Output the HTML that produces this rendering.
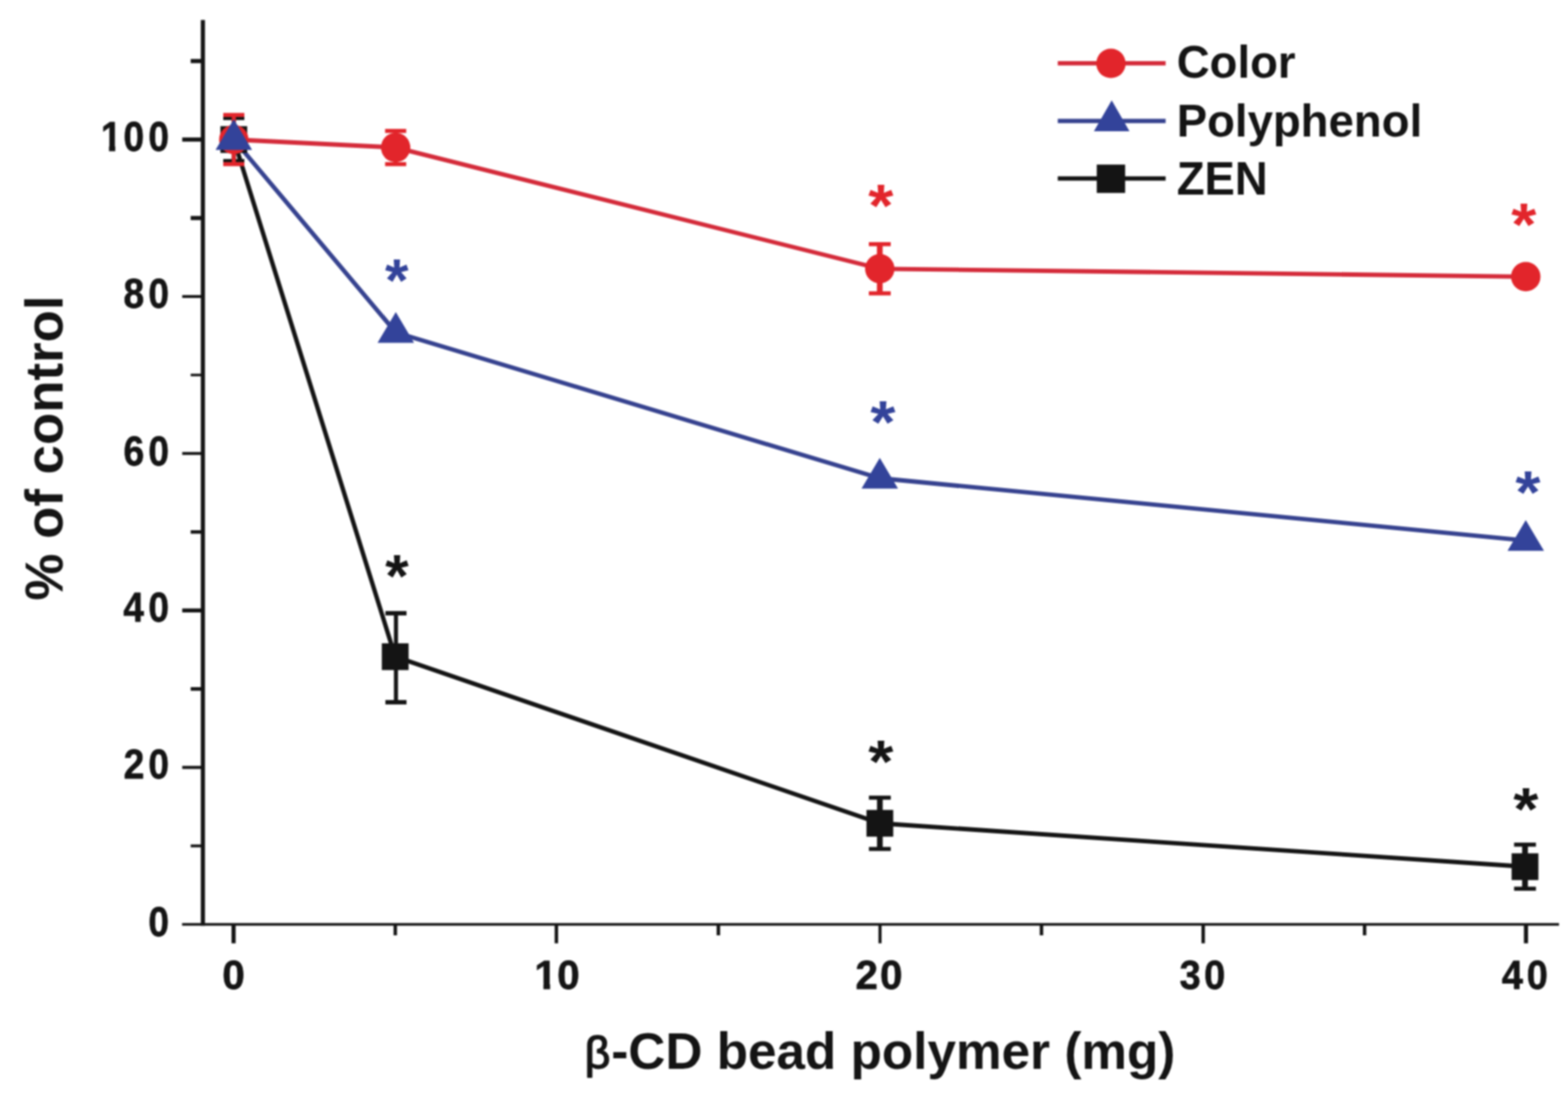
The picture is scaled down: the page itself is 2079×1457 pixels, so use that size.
<!DOCTYPE html>
<html lang="en">
<head>
<meta charset="utf-8">
<title>β-CD bead polymer vs % of control</title>
<style>
html,body{margin:0;padding:0;background:#fff;}
body{width:2079px;height:1457px;overflow:hidden;}
svg{display:block;filter:blur(0.9px);}
text{font-family:"Liberation Sans",Arial,Helvetica,sans-serif;font-weight:bold;fill:#141414;}
.tk{stroke:#141414;stroke-width:0.8px;stroke-linejoin:round;}
.beta{font-weight:normal;font-size:59px;stroke:#141414;stroke-width:1.8px;stroke-linejoin:round;}
</style>
</head>
<body>
<svg width="2079" height="1457" viewBox="0 0 2079 1457">
<rect width="2079" height="1457" fill="#ffffff"/>

<g stroke="#141414" fill="none" stroke-linecap="butt">
<line x1="269" y1="26.5" x2="269" y2="1227.2" stroke-width="5.5"/>
<line x1="241.4" y1="1225.5" x2="2067.1" y2="1225.5" stroke-width="3.4"/>
<line x1="252.8" y1="1121.45" x2="269" y2="1121.45" stroke-width="3.8"/>
<line x1="241.6" y1="1017.4" x2="269" y2="1017.4" stroke-width="4.1"/>
<line x1="252.8" y1="913.35" x2="269" y2="913.35" stroke-width="4.8"/>
<line x1="241.6" y1="809.3" x2="269" y2="809.3" stroke-width="5.3"/>
<line x1="252.8" y1="705.25" x2="269" y2="705.25" stroke-width="4.6"/>
<line x1="241.6" y1="601.2" x2="269" y2="601.2" stroke-width="3.9"/>
<line x1="252.8" y1="497.15" x2="269" y2="497.15" stroke-width="3.4"/>
<line x1="241.6" y1="393.1" x2="269" y2="393.1" stroke-width="3.8"/>
<line x1="252.8" y1="289.05" x2="269" y2="289.05" stroke-width="5.5"/>
<line x1="241.6" y1="185" x2="269" y2="185" stroke-width="5.5"/>
<line x1="252.8" y1="80.95" x2="269" y2="80.95" stroke-width="5.5"/>
<line x1="309.7" y1="1225" x2="309.7" y2="1250.6" stroke-width="5.5"/>
<line x1="737.7" y1="1225" x2="737.7" y2="1250.6" stroke-width="4.6"/>
<line x1="1166.8" y1="1225" x2="1166.8" y2="1250.6" stroke-width="4.1"/>
<line x1="1595.3" y1="1225" x2="1595.3" y2="1250.6" stroke-width="4.6"/>
<line x1="2023.3" y1="1225" x2="2023.3" y2="1250.6" stroke-width="5.5"/>
<line x1="524.1" y1="1225" x2="524.1" y2="1240" stroke-width="4.6"/>
<line x1="952.5" y1="1225" x2="952.5" y2="1240" stroke-width="4.6"/>
<line x1="1380.9" y1="1225" x2="1380.9" y2="1240" stroke-width="4.6"/>
<line x1="1809.3" y1="1225" x2="1809.3" y2="1240" stroke-width="4.6"/>
</g>
<text class="tk" transform="scale(0.8920,1)" x="220.56" y="1241.2" style="font-size:55.2px">0</text>
<text class="tk" transform="scale(0.8920,1)" x="183.81 220.56" y="1031.8" style="font-size:55.2px">20</text>
<text class="tk" transform="scale(0.8920,1)" x="183.4 220.56" y="824.4" style="font-size:55.2px">40</text>
<text class="tk" transform="scale(0.8920,1)" x="183.67 220.56" y="617.2" style="font-size:55.2px">60</text>
<text class="tk" transform="scale(0.8920,1)" x="183.67 220.56" y="407.6" style="font-size:55.2px">80</text>
<text class="tk" transform="scale(0.8920,1)" x="149.82 183.67 220.56" y="200.3" style="font-size:55.2px">100</text><rect x="134.62" y="193.4" width="9.94" height="9.4" fill="#fff"/><rect x="152.8" y="193.4" width="9.36" height="9.4" fill="#fff"/>
<text class="tk" transform="scale(1.0000,1)" x="294.83" y="1310.6" style="font-size:53.6px">0</text>
<text class="tk" transform="scale(1.0000,1)" x="708.59 738.63" y="1310.6" style="font-size:53.6px">10</text><rect x="709.66" y="1303.9" width="10.86" height="9.2" fill="#fff"/><rect x="729.4" y="1303.9" width="10.18" height="9.2" fill="#fff"/>
<text class="tk" transform="scale(1.0000,1)" x="1134.16 1166.73" y="1310.6" style="font-size:53.6px">20</text>
<text class="tk" transform="scale(0.9400,1)" x="1663.8 1698.53" y="1310.6" style="font-size:53.6px">30</text>
<text class="tk" transform="scale(0.9400,1)" x="2118.26 2153.53" y="1310.6" style="font-size:53.6px">40</text>
<text x="775.2" y="1415.5" style="font-size:68px"><tspan class="beta">β</tspan><tspan x="810.4" y="1417">-CD bead polymer (mg)</tspan></text>
<text transform="translate(83.3,594) rotate(-90)" text-anchor="middle" style="font-size:70px;">% of control</text>
<polyline points="310,185 524,870.6 1166.6,1091.5 2022,1149" fill="none" stroke="#141414" stroke-width="5.8" stroke-linejoin="round"/>
<polyline points="310,185 524.6,195.6 1166.5,356.3 2023,366.8" fill="none" stroke="#d42b3a" stroke-width="5.8" stroke-linejoin="round"/>
<polyline points="310,185 524.8,440.7 1166.5,634 2023,716.6" fill="none" stroke="#36428f" stroke-width="5.8" stroke-linejoin="round"/>
<g stroke="#141414" fill="none"><line x1="310" y1="156.5" x2="310" y2="213.5" stroke-width="5.4"/><line x1="296" y1="156.5" x2="324" y2="156.5" stroke-width="5.4"/><line x1="296" y1="213.5" x2="324" y2="213.5" stroke-width="5.4"/></g>
<g stroke="#141414" fill="none"><line x1="525" y1="813" x2="525" y2="931" stroke-width="5.4"/><line x1="511" y1="813" x2="539" y2="813" stroke-width="5.8"/><line x1="511" y1="931" x2="539" y2="931" stroke-width="5.8"/></g>
<g stroke="#141414" fill="none"><line x1="1166.6" y1="1057.5" x2="1166.6" y2="1125.5" stroke-width="7.6"/><line x1="1152.1" y1="1057.5" x2="1181.1" y2="1057.5" stroke-width="5.4"/><line x1="1152.1" y1="1125.5" x2="1181.1" y2="1125.5" stroke-width="5.4"/></g>
<g stroke="#141414" fill="none"><line x1="2022" y1="1119.8" x2="2022" y2="1178.2" stroke-width="7.6"/><line x1="2007.5" y1="1119.8" x2="2036.5" y2="1119.8" stroke-width="5.4"/><line x1="2007.5" y1="1178.2" x2="2036.5" y2="1178.2" stroke-width="5.4"/></g>
<rect x="292.25" y="167.25" width="35.5" height="35.5" fill="#141414"/>
<rect x="506.25" y="852.85" width="35.5" height="35.5" fill="#141414"/>
<rect x="1148.85" y="1073.75" width="35.5" height="35.5" fill="#141414"/>
<rect x="2004.25" y="1131.25" width="35.5" height="35.5" fill="#141414"/>
<g stroke="#e2252b" fill="none"><line x1="310" y1="152.4" x2="310" y2="217.6" stroke-width="5.4"/><line x1="296" y1="152.4" x2="324" y2="152.4" stroke-width="5.4"/><line x1="296" y1="217.6" x2="324" y2="217.6" stroke-width="5.4"/></g>
<g stroke="#e2252b" fill="none"><line x1="524.6" y1="173.6" x2="524.6" y2="217.6" stroke-width="5.4"/><line x1="510.6" y1="173.6" x2="538.6" y2="173.6" stroke-width="5.4"/><line x1="510.6" y1="217.6" x2="538.6" y2="217.6" stroke-width="5.4"/></g>
<g stroke="#e2252b" fill="none"><line x1="1166.5" y1="323.7" x2="1166.5" y2="388.9" stroke-width="7.6"/><line x1="1152" y1="323.7" x2="1181" y2="323.7" stroke-width="5.4"/><line x1="1152" y1="388.9" x2="1181" y2="388.9" stroke-width="5.4"/></g>

<circle cx="310" cy="185" r="19.5" fill="#e2252b"/>
<circle cx="524.6" cy="195.6" r="19.5" fill="#e2252b"/>
<circle cx="1166.5" cy="356.3" r="19.5" fill="#e2252b"/>
<circle cx="2023" cy="366.8" r="19.5" fill="#e2252b"/>




<polygon points="310,158 334.2,198.7 285.8,198.7" fill="#33439a"/>
<polygon points="524.8,413.7 549,454.4 500.6,454.4" fill="#33439a"/>
<polygon points="1166.5,607 1190.7,647.7 1142.3,647.7" fill="#33439a"/>
<polygon points="2023,689.6 2047.2,730.3 1998.8,730.3" fill="#33439a"/>
<text transform="translate(526.1,398.58) scale(1.0,1)" text-anchor="middle" style="font-size:80px;fill:#33439a">*</text>
<text transform="translate(1170.6,586.88) scale(1.07,1)" text-anchor="middle" style="font-size:80px;fill:#33439a">*</text>
<text transform="translate(2026,680.08) scale(1.07,1)" text-anchor="middle" style="font-size:80px;fill:#33439a">*</text>
<text transform="translate(1167.8,300.38) scale(1.07,1)" text-anchor="middle" style="font-size:80px;fill:#e2252b">*</text>
<text transform="translate(2020.3,325.18) scale(1.07,1)" text-anchor="middle" style="font-size:80px;fill:#e2252b">*</text>
<text transform="translate(526.2,791.18) scale(1.0,1)" text-anchor="middle" style="font-size:80px;fill:#141414">*</text>
<text transform="translate(1167.8,1037.08) scale(1.07,1)" text-anchor="middle" style="font-size:80px;fill:#141414">*</text>
<text transform="translate(2023.2,1099.58) scale(1.07,1)" text-anchor="middle" style="font-size:80px;fill:#141414">*</text>
<line x1="1402.5" y1="83.8" x2="1545.5" y2="83.8" stroke="#d42b3a" stroke-width="5.8"/>
<circle cx="1473" cy="84.1" r="19.5" fill="#e2252b"/>
<text transform="translate(1560.2,103)" text-anchor="start" style="font-size:60.4px;">Color</text>
<line x1="1402.5" y1="160.3" x2="1545.5" y2="160.3" stroke="#36428f" stroke-width="5.8"/>
<polygon points="1474,133.1 1497.6,174 1450.4,174" fill="#33439a"/>
<text transform="translate(1560.2,181)" text-anchor="start" style="font-size:60.4px;">Polyphenol</text>
<line x1="1402.5" y1="236.7" x2="1545.5" y2="236.7" stroke="#141414" stroke-width="5.8"/>
<rect x="1454.2" y="218.2" width="37.6" height="37.6" fill="#141414"/>
<text transform="translate(1560.2,258.3) scale(0.9615,1)" text-anchor="start" style="font-size:62.82px;">ZEN</text>
</svg>
</body>
</html>
